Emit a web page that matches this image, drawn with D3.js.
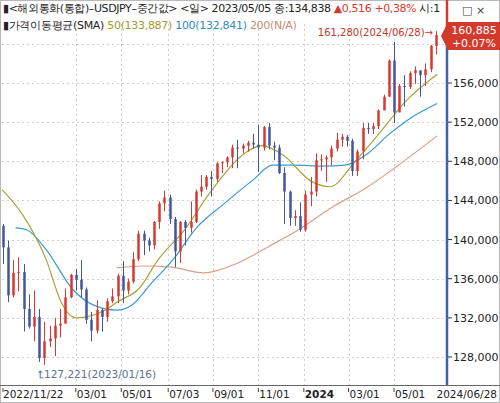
<!DOCTYPE html>
<html><head><meta charset="utf-8">
<script src="https://cdn.jsdelivr.net/npm/d3@7"></script>
<style>
body{margin:0;background:#fff;font-family:"DejaVu Sans",sans-serif;}
</style></head>
<body><div id="chart"></div>
<script>
// weekly candles (week ending date)
const weeks = ['2022-11-25','2022-12-02','2022-12-09','2022-12-16','2022-12-23','2022-12-30',
  '2023-01-06','2023-01-13','2023-01-20','2023-01-27','2023-02-03','2023-02-10','2023-02-17','2023-02-24',
  '2023-03-03','2023-03-10','2023-03-17','2023-03-24','2023-03-31','2023-04-07','2023-04-14','2023-04-21','2023-04-28',
  '2023-05-05','2023-05-12','2023-05-19','2023-05-26','2023-06-02','2023-06-09','2023-06-16','2023-06-23','2023-06-30',
  '2023-07-07','2023-07-14','2023-07-21','2023-07-28','2023-08-04','2023-08-11','2023-08-18','2023-08-25',
  '2023-09-01','2023-09-08','2023-09-15','2023-09-22','2023-09-29','2023-10-06','2023-10-13','2023-10-20','2023-10-27',
  '2023-11-03','2023-11-10','2023-11-17','2023-11-24','2023-12-01','2023-12-08','2023-12-15','2023-12-22','2023-12-29',
  '2024-01-05','2024-01-12','2024-01-19','2024-01-26','2024-02-02','2024-02-09','2024-02-16','2024-02-23',
  '2024-03-01','2024-03-08','2024-03-15','2024-03-22','2024-03-29','2024-04-05','2024-04-12','2024-04-19','2024-04-26',
  '2024-05-03','2024-05-10','2024-05-17','2024-05-24','2024-05-31','2024-06-07','2024-06-14','2024-06-21','2024-06-28'];
const opens = [141.4,139.2,134.3,136.6,136.7,132.9,
  131.1,132.1,127.9,129.6,129.9,131.2,131.4,134.1,
  136.4,135.9,134.9,131.8,130.7,132.8,132.1,133.7,134.2,
  136.3,134.8,135.7,138.0,140.6,139.9,139.4,141.8,143.7,
  144.3,142.1,138.8,141.8,141.2,141.8,144.9,145.4,
  146.4,146.2,147.8,147.9,148.4,149.4,149.3,149.6,149.9,
  149.7,149.4,151.5,149.6,149.4,146.8,144.9,142.2,142.4,
  141.0,144.6,144.9,148.1,148.2,148.4,149.3,150.2,
  150.5,150.1,147.0,149.0,151.4,151.3,151.6,153.2,154.6,
  158.3,153.0,155.7,155.6,157.0,157.3,156.8,157.4,159.8];
const closes = [139.2,134.3,136.6,136.7,132.9,131.1,
  132.1,127.9,129.6,129.9,131.2,131.4,134.1,136.4,
  135.9,134.9,131.8,130.7,132.8,132.1,133.7,134.2,136.3,
  134.8,135.7,138.0,140.6,139.9,139.4,141.8,143.7,144.3,
  142.1,138.8,141.8,141.2,141.8,144.9,145.4,146.4,
  146.2,147.8,147.9,148.4,149.4,149.3,149.6,149.9,149.7,
  149.4,151.5,149.6,149.4,146.8,144.9,142.2,142.4,141.0,
  144.6,144.9,148.1,148.2,148.4,149.3,150.2,150.5,
  150.1,147.0,149.0,151.4,151.3,151.6,153.2,154.6,158.3,
  153.0,155.7,155.6,157.0,157.3,156.8,157.4,159.8,160.9];
const highs = [141.6,139.9,137.9,138.2,137.5,134.4,
  134.8,132.9,131.6,131.2,132.0,132.9,135.0,136.5,
  137.0,137.9,135.1,132.6,133.8,133.0,134.0,135.0,136.5,
  137.8,136.0,138.7,140.9,140.9,140.2,141.9,143.9,145.0,
  144.6,142.3,141.9,142.0,143.9,145.1,146.6,146.6,
  147.0,147.9,148.0,148.5,149.7,150.2,149.8,150.1,150.8,
  151.7,151.6,151.9,150.0,149.7,147.4,145.0,143.0,143.8,
  145.0,146.4,148.8,148.7,148.6,149.6,150.9,150.8,
  150.7,150.3,149.2,151.9,151.9,151.9,153.3,154.8,158.4,
  160.2,155.9,156.8,157.2,157.7,157.0,158.0,159.9,161.3];
const lows = [137.5,133.6,134.1,134.7,130.6,130.9,
  129.6,127.5,127.2,129.0,128.1,130.0,131.5,134.0,
  134.8,134.1,131.4,129.6,130.4,130.6,131.6,133.5,133.5,
  133.5,134.4,135.5,137.8,138.4,138.8,139.0,141.1,142.9,
  141.6,137.2,137.6,139.4,140.7,141.7,144.4,145.1,
  144.4,145.9,146.8,147.4,147.3,147.3,148.8,149.0,149.3,
  146.9,149.1,149.2,148.1,146.7,141.6,141.4,141.4,140.8,
  140.8,143.4,144.4,147.0,145.9,147.6,149.0,149.5,
  149.5,146.5,146.5,148.2,150.8,150.8,151.3,153.6,154.6,
  151.9,153.0,153.6,155.4,155.9,154.6,155.7,157.1,158.9];

// moving averages
const sma50Dates = ['2022-11-22','2022-12-20','2023-01-20','2023-02-10','2023-03-01','2023-04-10','2023-04-25','2023-05-25','2023-06-20','2023-07-25','2023-08-30','2023-10-10','2023-11-05','2023-12-05','2024-01-10','2024-02-05','2024-03-10','2024-04-15','2024-05-15','2024-06-28'];
const sma50 = [145.1,142.5,138.0,133.5,132.0,132.8,133.6,135.0,138.0,141.0,145.0,148.6,149.6,148.6,146.0,145.4,148.0,151.2,154.0,156.9];
const sma100Dates = ['2022-12-10','2022-12-25','2023-01-20','2023-02-25','2023-03-25','2023-04-25','2023-05-15','2023-06-10','2023-07-10','2023-08-10','2023-09-15','2023-10-25','2023-11-20','2023-12-20','2024-01-25','2024-02-25','2024-03-25','2024-04-25','2024-05-25','2024-06-28'];
const sma100 = [141.2,141.0,139.0,134.9,133.3,132.8,133.3,135.5,138.0,141.2,143.6,146.1,147.6,147.6,147.5,147.6,148.7,150.8,152.5,153.9];
const sma200Dates = ['2023-04-25','2023-06-01','2023-07-05','2023-08-20','2023-10-01','2023-11-15','2023-12-25','2024-02-10','2024-03-25','2024-05-05','2024-06-28'];
const sma200 = [137.1,137.3,137.2,136.6,137.5,139.3,141.0,143.4,145.3,147.5,150.6];

const yTicks = [128,132,136,140,144,148,152,156,160];
const xTickDates = ['2022-11-22','2023-03-01','2023-05-01','2023-07-03','2023-09-01','2023-11-01','2024-01-01','2024-03-01','2024-05-01','2024-06-28'];
const xTickLabels = ['2022/11/22','03/01','05/01','07/03','09/01','11/01','2024','03/01','05/01','2024/06/28'];

const W = 500, H = 403;
const parse = d3.timeParse('%Y-%m-%d');
const plot = { left: 2, right: 446, top: 36, bottom: 385 };

const x = d3.scaleTime().domain([parse('2022-11-22'), parse('2024-05-01')]).range([2, 394]);
const y = d3.scaleLinear().domain([128, 156]).range([357, 83]);

const svg = d3.select('#chart').append('svg').attr('width', W).attr('height', H)
  .style('font-family', '"DejaVu Sans", sans-serif');

svg.append('rect').attr('x', 0.5).attr('y', 0.5).attr('width', W - 1).attr('height', H - 1)
  .attr('fill', '#fff').attr('stroke', '#b9b9b9');
svg.append('clipPath').attr('id', 'hclip').append('rect').attr('x', 0).attr('y', 0).attr('width', 440).attr('height', 40);

// grid
const grid = svg.append('g').attr('stroke', '#cfcfcf').attr('stroke-dasharray', '2,3');
grid.selectAll('.vg').data(xTickDates.slice(1, -1)).enter().append('line')
  .attr('x1', d => Math.round(x(parse(d))) + 0.5).attr('x2', d => Math.round(x(parse(d))) + 0.5)
  .attr('y1', 24).attr('y2', plot.bottom);
grid.selectAll('.hg').data(yTicks).enter().append('line')
  .attr('x1', plot.left).attr('x2', plot.right)
  .attr('y1', d => Math.round(y(d)) + 0.5).attr('y2', d => Math.round(y(d)) + 0.5);

// moving averages
const mkLine = (dates, vals, color) => {
  const pts = dates.map((d, i) => [x(parse(d)), y(vals[i])]);
  svg.append('path').attr('d', d3.line().curve(d3.curveMonotoneX)(pts))
    .attr('fill', 'none').attr('stroke', color).attr('stroke-width', 1.2);
};
mkLine(sma200Dates, sma200, '#dc9f86');
mkLine(sma100Dates, sma100, '#3a9ad2');
mkLine(sma50Dates, sma50, '#aaa43c');

// candles
const up = '#d8392f', down = '#42569e';
const cg = svg.append('g');
weeks.forEach((w, i) => {
  const cx = Math.round(x(d3.timeDay.offset(parse(w), -2))) + 0.5;
  const col = closes[i] >= opens[i] ? up : down;
  cg.append('line').attr('x1', cx).attr('x2', cx).attr('y1', y(highs[i])).attr('y2', y(lows[i]))
    .attr('stroke', col).attr('stroke-width', 1);
  const top = y(Math.max(opens[i], closes[i])), bot = y(Math.min(opens[i], closes[i]));
  cg.append('rect').attr('x', cx - 1.25).attr('y', top).attr('width', 2.5).attr('height', Math.max(1, bot - top))
    .attr('fill', col);
});

// right axis
svg.append('line').attr('x1', 447).attr('x2', 447).attr('y1', 36).attr('y2', plot.bottom)
  .attr('stroke', '#3f62a8').attr('stroke-width', 2.5);
svg.append('line').attr('x1', 447).attr('x2', 447).attr('y1', 0).attr('y2', 36)
  .attr('stroke', '#d8392f').attr('stroke-width', 2.5);
const ya = svg.append('g').attr('font-size', 11).attr('fill', '#222');
yTicks.filter(d => d < 160).forEach(d => {
  ya.append('line').attr('x1', 448).attr('x2', 452).attr('y1', y(d)).attr('y2', y(d)).attr('stroke', '#333');
  ya.append('text').attr('x', 453).attr('y', y(d) + 4).text(d3.format(',')(d * 1000));
});

// last price tag
svg.append('path').attr('d', 'M441,36 L448,22 L500,22 L500,50 L448,50 Z').attr('fill', '#d23a2c');
svg.append('text').attr('x', 474).attr('y', 34).attr('text-anchor', 'middle').attr('font-size', 11)
  .attr('fill', '#fff').text('160,885');
svg.append('text').attr('x', 474).attr('y', 47).attr('text-anchor', 'middle').attr('font-size', 11)
  .attr('fill', '#fff').text('+0.07%');

// x axis
svg.append('line').attr('x1', 0).attr('x2', W).attr('y1', plot.bottom + 0.5).attr('y2', plot.bottom + 0.5)
  .attr('stroke', '#666');
const xa = svg.append('g').attr('font-size', 10.5).attr('fill', '#222');
xTickDates.forEach((d, i) => {
  const px = x(parse(d));
  const last = i === xTickDates.length - 1;
  const first = i === 0;
  const t = xa.append('text').attr('y', 398).text(xTickLabels[i]);
  if (last) t.attr('x', 497).attr('text-anchor', 'end');
  else if (first) t.attr('x', 3);
  else t.attr('x', px + 1);
  if (xTickLabels[i] === '2024') t.attr('font-weight', 'bold');
  if (!last) xa.append('line').attr('x1', first ? 3 : px).attr('x2', first ? 3 : px)
    .attr('y1', 388).attr('y2', 392).attr('stroke', '#444');
});

// annotations
svg.append('text').attr('x', 433).attr('y', 36).attr('text-anchor', 'end').attr('font-size', 10)
  .attr('fill', '#c0392b').text('161,280(2024/06/28)→');
svg.append('text').attr('x', 38).attr('y', 378).attr('font-size', 10.5)
  .attr('fill', '#5a6f9a').text('⮤127,221(2023/01/16)');

// header
const hd = svg.append('g').attr('font-size', 11).attr('clip-path', 'url(#hclip)');
const h1 = hd.append('text').attr('x', 3).attr('y', 12).attr('letter-spacing', -0.4);
h1.append('tspan').attr('fill', '#222').text('▮<해외통화(통합)–USDJPY–중간값> <일> 2023/05/05 종:134,838 ');
h1.append('tspan').attr('fill', '#d23a2c').text('▲0,516 +0,38% ');
h1.append('tspan').attr('fill', '#222').text('시:134,32');
svg.append('text').attr('x', 462).attr('y', 14).attr('font-size', 11).attr('fill', '#444').text('□ ×');
const h2 = hd.append('text').attr('x', 3).attr('y', 29).attr('letter-spacing', -0.3);
h2.append('tspan').attr('fill', '#222').text('▮가격이동평균(SMA) ');
h2.append('tspan').attr('fill', '#a09a30').text('50(133,887) ');
h2.append('tspan').attr('fill', '#2f8cc4').text('100(132,841) ');
h2.append('tspan').attr('fill', '#c98b74').text('200(N/A)');
</script></body></html>
